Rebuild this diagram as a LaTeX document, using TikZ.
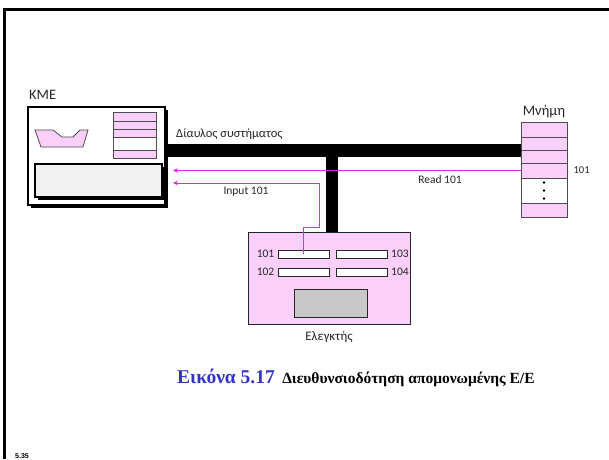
\documentclass[tikz,border=0pt]{standalone}
\usepackage{fontspec}
\setmainfont{Carlito}
\newfontfamily\capfont{Liberation Serif}
\newfontfamily\slidenumfont{Liberation Sans}
\usepackage{xcolor}
\usetikzlibrary{
  arrows.meta,
  calc,
  positioning,
  shadows
}
\definecolor{regpink}{RGB}{250,208,250}
\definecolor{sigmag}{RGB}{222,40,222}
\definecolor{capblue}{RGB}{51,51,204}
\definecolor{panelgray}{RGB}{242,242,242}
\definecolor{bufgray}{RGB}{200,200,200}
\tikzset{
  lbl/.style={ font=\fontsize{11.5}{13}\selectfont, text=black!85, inner sep=2pt },
  biglbl/.style={ font=\fontsize{14.5}{17}\selectfont, text=black!85, inner sep=0pt },
  frameline/.style={ line width=3pt, draw=black },
  unitbox/.style={
    draw=black,
    fill=white,
    line width=1.1pt,
    inner sep=0pt,
    drop shadow={shadow xshift=3pt, shadow yshift=-3pt, fill=black, opacity=1}
  },
  cell/.style={
    draw=black!70,
    line width=0.8pt,
    inner sep=0pt
  },
  regbox/.style={
    draw=black!85,
    fill=white,
    line width=1pt,
    inner sep=0pt,
    minimum width=51pt,
    minimum height=8pt
  },
  ctrlbox/.style={
    draw=black!85,
    fill=regpink,
    line width=1pt,
    inner sep=0pt
  },
  busline/.style={ line width=12.5pt, draw=black },
  sigline/.style={
    -{Stealth[length=5pt,width=4.5pt]},
    line width=1pt,
    draw=sigmag
  }
}

\begin{document}
\begin{tikzpicture}[x=1pt, y=-1pt]
  \useasboundingbox (0,0) rectangle (609,459);
  \draw[frameline] (3,9) -- (609,9);
  \draw[frameline] (4,9) -- (4,459);

  % KME
  \node[unitbox, minimum width=137pt, minimum height=98pt] (kme) at (96.5,156) {};
  \node[biglbl, anchor=base west] (kmelbl) at (29,99) {KME};
  \foreach \top/\bot/\fc [count=\i] in {112/121/regpink, 121/129/regpink,
      129/137/regpink, 137/150/white, 150/158/regpink}
    \node[cell, fill=\fc, minimum width=43pt, minimum height=(\bot-\top)*1pt]
      (kr\i) at (134.5,{(\top+\bot)/2}) {};
  \draw[cell, fill=regpink] (35,130) -- (53,130) -- (62,137) -- (73,137)
    -- (80,130) -- (88,130) -- (83,147) -- (41,147) -- cycle;
  \node[unitbox, fill=panelgray, minimum width=127pt, minimum height=33pt]
    (kmepanel) at (98.5,180.5) {};

  % Mnimi
  \node[cell, minimum width=46pt, minimum height=95pt] (mem) at (544,169.5) {};
  \foreach \top/\bot/\fc [count=\i] in {122/137/regpink, 137/150/regpink,
      150/163/regpink, 163/178/regpink, 178/203/white, 203/217/regpink}
    \node[cell, fill=\fc, minimum width=46pt, minimum height=(\bot-\top)*1pt]
      (m\i) at (544,{(\top+\bot)/2}) {};
  \foreach \d in {-8,0,8}
    \fill ([yshift=\d pt]m5.center) circle (1.4pt);
  \node[biglbl, above=4pt of mem] (memlbl) {Μνήμη};
  \node[lbl, font=\fontsize{10.5}{12}\selectfont, right=4pt of m4] (addrlbl) {101};

  % Elegktis
  \node[ctrlbox, minimum width=162pt, minimum height=92pt] (ctrl) at (329,278) {};
  \node[regbox] (r101) at (303.5,254) {};
  \node[regbox] (r103) at (362,254) {};
  \node[regbox] (r102) at (303.5,272) {};
  \node[regbox] (r104) at (362,272) {};
  \node[lbl, left=1pt of r101] (l101) {101};
  \node[lbl, right=1pt of r103] (l103) {103};
  \node[lbl, left=1pt of r102] (l102) {102};
  \node[lbl, right=1pt of r104] (l104) {104};
  \node[regbox, fill=bufgray, minimum width=73pt, minimum height=28pt]
    (ctrlbuf) at (331,303) {};
  \node[lbl, font=\fontsize{13}{15}\selectfont, below=5pt of ctrl] (ctrllbl) {Ελεγκτής};

  % diavlos
  \coordinate (busy) at (0,150.5);
  \coordinate (tap) at (332,150.5);
  \draw[busline] (kme.east |- busy) -- (mem.west |- busy);
  \draw[busline] (tap) -- (tap |- ctrl.north);
  \node[lbl, font=\fontsize{12.5}{14}\selectfont, anchor=base west, inner sep=0pt]
    (buslbl) at (176,137) {Δίαυλος συστήματος};

  % simata
  \coordinate (readend) at (173,170.5);
  \coordinate (inbend) at (319,227);
  \coordinate (inend) at (173,183);
  \draw[sigline] (m4.west) -- (readend);
  \draw[sigline] (r101.center) |- (inbend) |- (inend);
  \node[lbl] (readlbl) at (440,180) {Read 101};
  \node[lbl] (inlbl) at (246,192) {Input 101};

  % leitourgia
  \node[anchor=base west, inner sep=0pt, text=capblue,
    font=\capfont\bfseries\fontsize{19.5}{22}\selectfont] (capnum) at (177,383) {Εικόνα 5.17};
  \node[anchor=base west, inner sep=0pt,
    font=\capfont\bfseries\fontsize{15.5}{18}\selectfont]
    (captxt) at ([xshift=7pt]capnum.base east) {Διευθυνσιοδότηση απομονωμένης Ε/Ε};
  \node[anchor=base west, inner sep=0pt,
    font=\slidenumfont\bfseries\fontsize{7}{8}\selectfont] (slidenum) at (15,458) {5.35};
\end{tikzpicture}
\end{document}
